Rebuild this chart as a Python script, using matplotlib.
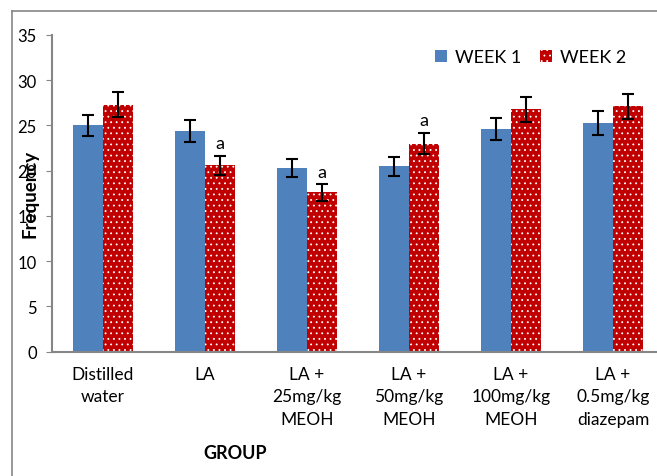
import numpy as np
import matplotlib.pyplot as plt
from matplotlib.lines import Line2D

plt.rcParams['font.family'] = ['Lato', 'DejaVu Sans']
plt.rcParams['hatch.linewidth'] = 0.6

groups = ["Distilled\nwater", "LA", "LA +\n25mg/kg\nMEOH", "LA +\n50mg/kg\nMEOH",
          "LA +\n100mg/kg\nMEOH", "LA +\n0.5mg/kg\ndiazepam"]
week1 = [25.0, 24.4, 20.3, 20.5, 24.6, 25.3]
week1_err = [1.2, 1.2, 1.0, 1.05, 1.25, 1.3]
week2 = [27.3, 20.6, 17.6, 23.0, 26.8, 27.1]
week2_err = [1.35, 1.05, 0.9, 1.2, 1.4, 1.35]
marks = ["", "a", "a", "a", "", ""]

fig = plt.figure(figsize=(6.57, 4.77), dpi=100)
ax = fig.add_axes([0.0791, 0.2606, 0.9315, 0.664])

x = np.arange(len(groups))
w = 0.29
ax.bar(x - w/2, week1, w, color='#4F81BD', label='WEEK 1',
       yerr=week1_err, capsize=4.3, error_kw=dict(elinewidth=1.5, capthick=1.5, ecolor='black'))
ax.bar(x + w/2, week2, w, color='#C00000', edgecolor='white', linewidth=0, hatch='...',
       label='WEEK 2',
       yerr=week2_err, capsize=4.3, error_kw=dict(elinewidth=1.5, capthick=1.5, ecolor='black'))

for i, m in enumerate(marks):
    if m:
        ax.text(x[i] + w/2, week2[i] + week2_err[i] + 0.5, m, ha='center', va='bottom',
                fontsize=13)

ax.set_xlim(-0.5, len(groups) - 0.5)
ax.set_ylim(0, 35)
ax.set_yticks(range(0, 36, 5))
ax.set_xticks(x)
ax.set_xticklabels(groups, fontsize=12.5, linespacing=1.5)
ax.tick_params(axis='x', length=0, pad=10)
ax.tick_params(axis='y', length=4, color='#868686', labelsize=12, pad=7)
for s in ['top', 'right']:
    ax.spines[s].set_visible(False)
for s in ['left', 'bottom']:
    ax.spines[s].set_color('#868686')
    ax.spines[s].set_linewidth(1.5)

fig.text(0.046, 0.593, 'Frequency', rotation=90, fontsize=13.5, fontweight='bold',
         ha='center', va='center')
fig.text(0.358, 0.05, 'GROUP', fontsize=13, fontweight='bold', ha='center', va='center')

ax.legend(loc='center left', bbox_to_anchor=(0.637, 0.878), bbox_transform=fig.transFigure,
          ncol=2, frameon=False, fontsize=13, handlelength=0.7, handleheight=0.7,
          handletextpad=0.4, columnspacing=1.05)

fig.add_artist(Line2D([0.0183, 0.0183], [0, 0.9748], color='#868686', lw=1.2,
                      transform=fig.transFigure))
fig.add_artist(Line2D([0.0183, 1.0], [0.9748, 0.9748], color='#868686', lw=1.2,
                      transform=fig.transFigure))

fig.savefig('out.png', dpi=100)
